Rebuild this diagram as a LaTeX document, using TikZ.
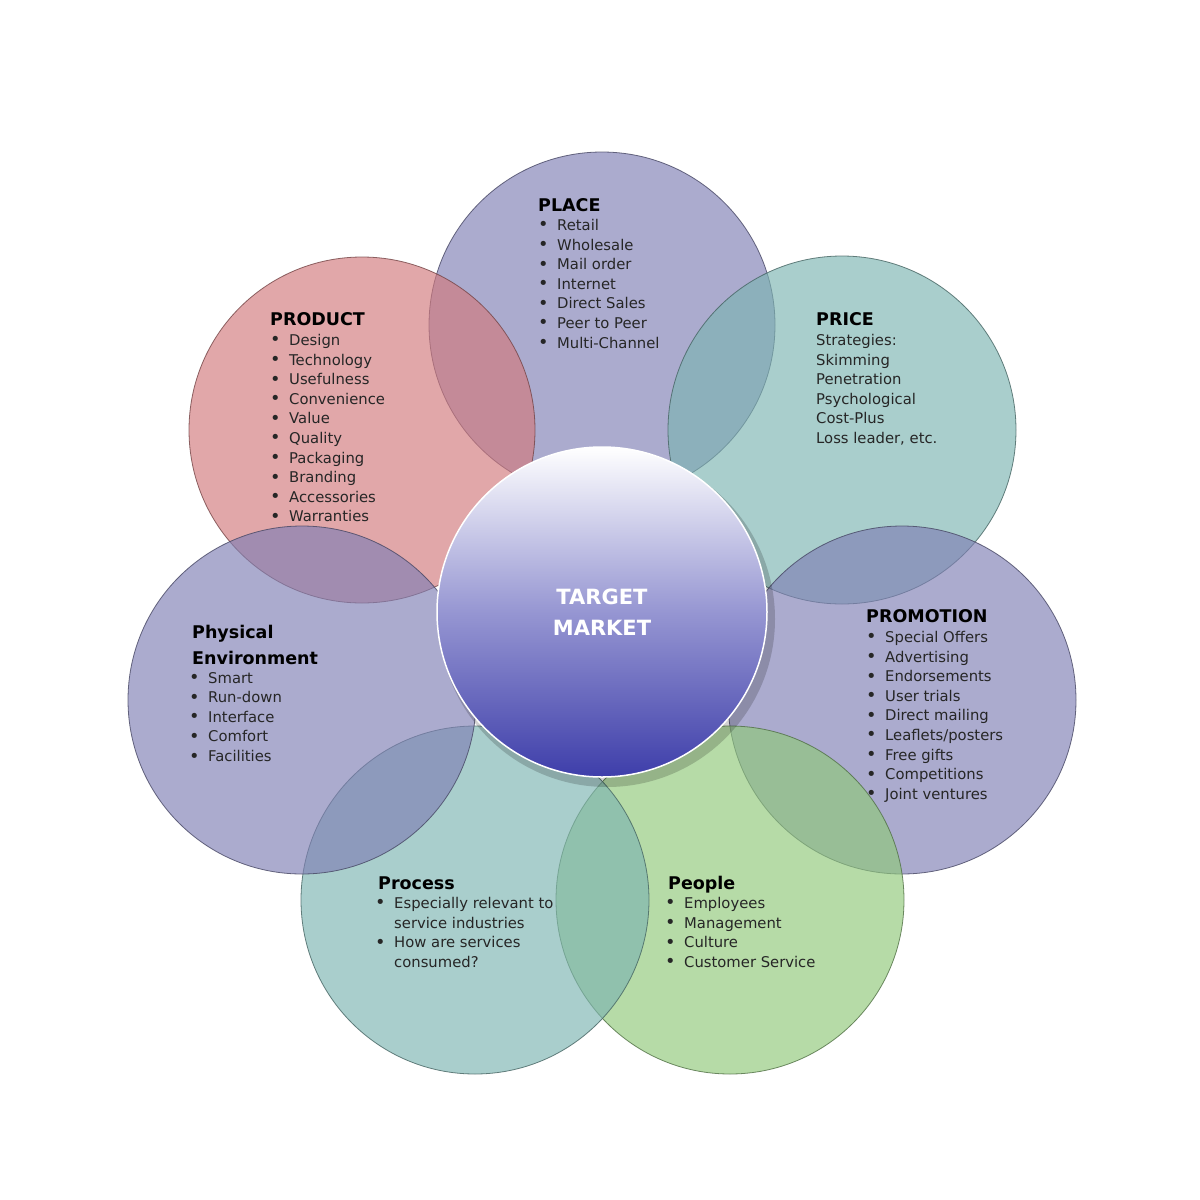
\documentclass[tikz,border=0pt]{standalone}
\usepackage{fontspec}
\setmainfont{DejaVu Sans}
\begin{document}
\begin{tikzpicture}[x=1pt,y=-1pt,
  petal/.style={draw=#1!55!black, draw opacity=0.8, line width=0.8pt, fill=#1, fill opacity=0.65},
  txt/.style={anchor=north west, align=left, font=\fontsize{14.8}{19.6}\selectfont, text=black!85, inner sep=0pt},
  head/.style={anchor=base west, font=\fontsize{17.5}{20}\selectfont\bfseries, text=black, inner sep=0pt}]
\definecolor{lav}{RGB}{127,127,180}
\definecolor{pink}{RGB}{210,121,124}
\definecolor{teal}{RGB}{124,180,177}
\definecolor{grn}{RGB}{143,201,121}
\definecolor{tmblue}{RGB}{62,62,170}
\newcommand{\bl}[1]{\makebox[20pt][l]{\hspace*{1pt}\raisebox{-0.5pt}{\scalebox{1.2}{•}}}#1}
\useasboundingbox (0,0) rectangle (1200,1200);
\fill[white] (0,0) rectangle (1200,1200);
\draw[petal=lav] (602,325) circle (173);
\draw[petal=pink] (362,430) circle (173);
\draw[petal=teal] (842,430) circle (174);
\draw[petal=lav] (902,700) circle (174);
\draw[petal=grn] (730,900) circle (174);
\draw[petal=teal] (475,900) circle (174);
\draw[petal=lav] (302,700) circle (174);
% center
\fill[black, opacity=0.18] (607,619) circle (168);
\shade[top color=white, bottom color=tmblue, middle color={rgb,255:red,150;green,150;blue,210}] (602,612) circle (165);
\draw[white, line width=1.5pt] (602,612) circle (165);
\node[name=tm, align=center, font=\fontsize{21}{31}\selectfont\bfseries, text=white] at (602,612) {TARGET\\MARKET};
% texts
\node[head] (hpl) at (538,211) {PLACE};
\node[txt] (tpl) at (537,219) {\bl{Retail}\\\bl{Wholesale}\\\bl{Mail order}\\\bl{Internet}\\\bl{Direct Sales}\\\bl{Peer to Peer}\\\bl{Multi-Channel}};
\node[head] (hpr) at (270,325) {PRODUCT};
\node[txt] (tpr) at (269,334) {\bl{Design}\\\bl{Technology}\\\bl{Usefulness}\\\bl{Convenience}\\\bl{Value}\\\bl{Quality}\\\bl{Packaging}\\\bl{Branding}\\\bl{Accessories}\\\bl{Warranties}};
\node[head] (hpc) at (816,325) {PRICE};
\node[txt] (tpc) at (816,334) {Strategies:\\Skimming\\Penetration\\Psychological\\Cost-Plus\\Loss leader, etc.};
\node[head] (hpm) at (866,622) {PROMOTION};
\node[txt] (tpm) at (865,631) {\bl{Special Offers}\\\bl{Advertising}\\\bl{Endorsements}\\\bl{User trials}\\\bl{Direct mailing}\\\bl{Leaflets/posters}\\\bl{Free gifts}\\\bl{Competitions}\\\bl{Joint ventures}};
\node[head] (hph) at (192,638) {Physical};
\node[head] (hph2) at (192,664) {Environment};
\node[txt] (tph) at (188,672) {\bl{Smart}\\\bl{Run-down}\\\bl{Interface}\\\bl{Comfort}\\\bl{Facilities}};
\node[head] (hps) at (378,889) {Process};
\node[txt] (tps) at (374,897) {\bl{Especially relevant to}\\\hspace*{20pt}service industries\\\bl{How are services}\\\hspace*{20pt}consumed?};
\node[head] (hpe) at (668,889) {People};
\node[txt] (tpe) at (664,897) {\bl{Employees}\\\bl{Management}\\\bl{Culture}\\\bl{Customer Service}};
\end{tikzpicture}
\end{document}
